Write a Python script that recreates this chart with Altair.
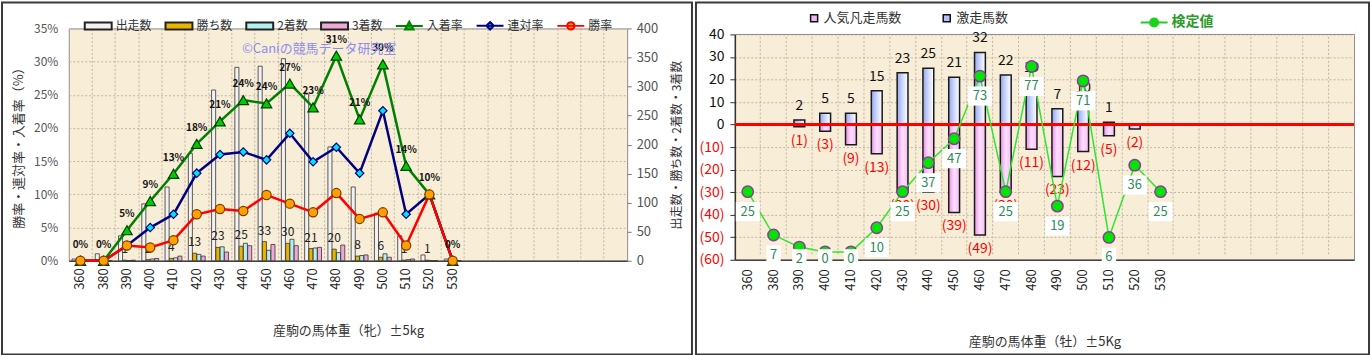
import altair as alt
import pandas as pd

FONT = "Noto Sans CJK JP"

# ---------------- data ----------------
cats = ["360", "380", "390", "400", "410", "420", "430", "440", "450",
        "460", "470", "480", "490", "500", "510", "520", "530"]
blanks = ["x1", "x2", "x3", "x4", "x5", "x6", "x7"]
x_domain = cats + blanks

# left panel (牝)
starters = [3, 12, 43, 98, 127, 185, 294, 333, 335, 348, 287, 196, 127, 82, 43, 10, 3]
wins = [0, 0, 1, 2, 4, 13, 23, 25, 33, 30, 21, 20, 8, 6, 1, 1, 0]
seconds = [0, 0, 0, 3, 5, 11, 24, 30, 18, 37, 22, 14, 9, 12, 2, 0, 0]
thirds = [0, 0, 1, 4, 8, 8, 15, 26, 28, 26, 23, 27, 10, 6, 3, 0, 0]
place_rate = [0, 0, 4.6, 9.0, 13.1, 17.6, 21.0, 24.2, 23.7, 26.7, 23.1, 30.9, 21.3, 29.6, 14.3, 10.0, 0]
rentai_rate = [0, 0, 2.3, 5.0, 7.0, 13.2, 16.0, 16.4, 15.2, 19.2, 14.9, 17.1, 13.2, 22.6, 7.0, 10.0, 0]
win_rate = [0, 0, 2.3, 2.0, 3.1, 7.0, 7.8, 7.5, 9.9, 8.6, 7.3, 10.2, 6.3, 7.3, 2.3, 10.0, 0]

# right panel (牡)
gekisou = [0, 0, 2, 5, 5, 15, 23, 25, 21, 32, 22, 19, 7, 10, 1, 0, 0]
ninki = [0, 0, -1, -3, -9, -13, -30, -30, -39, -49, -30, -11, -23, -12, -5, -2, 0]
check = [25, 7, 2, 0, 0, 10, 25, 37, 47, 73, 25, 77, 19, 71, 6, 36, 25]

bar_names = ["出走数", "勝ち数", "2着数", "3着数"]
line_names = ["入着率", "連対率", "勝率"]
bar_fill = ["#f2f2f2", "#e8b400", "#b4f0f0", "#f0a8d8"]
line_color = ["#008000", "#000080", "#ff0000"]
marker_fill = ["#00cc00", "#00e4f0", "#ffa000"]
marker_stroke = ["#004000", "#000080", "#7a3a00"]
marker_shape = ["triangle-up", "diamond", "circle"]
marker_size = [110, 70, 85]

W1, H1 = 560, 233
W2, H2 = 621, 232   # right plot drawn 6px taller; its scales start 6px down
TOP2 = 6
GRID = "#bdb5a5"
VIEW_BG = "#f8edd6"

df_bars = pd.DataFrame({
    "cat": cats * 4,
    "series": sum([[n] * len(cats) for n in bar_names], []),
    "value": starters + wins + seconds + thirds,
})
df_lines = pd.DataFrame({
    "cat": cats * 3,
    "series": sum([[n] * len(cats) for n in line_names], []),
    "value": place_rate + rentai_rate + win_rate,
})
df_r = pd.DataFrame({"cat": cats, "gekisou": gekisou, "ninki": ninki, "check": check})
one = alt.Data(values=[{"z": 0}])


def x_axis(title, label_pad, title_pad):
    return alt.Axis(
        title=title, bandPosition=0, labelAngle=270,
        labelExpr="substring(datum.label,0,1)=='x' ? '' : datum.label",
        labelFontSize=13, labelColor="#222", labelPadding=label_pad,
        ticks=False, grid=True, gridColor=GRID, gridDash=[2, 2],
        domain=True, domainColor="#444", domainWidth=1.5,
        titleFontSize=13, titleFontWeight="normal", titleColor="#333",
        titlePadding=title_pad)


# ---------------- left panel ----------------
xs1 = alt.Scale(domain=x_domain, paddingInner=0, paddingOuter=0)
xax1 = x_axis("産駒の馬体重（牝）±5kg", 7, 35)


def X1():
    return alt.X("cat:N", scale=xs1, axis=xax1)


off_scale = alt.Scale(domain=bar_names, paddingInner=0.05, paddingOuter=0.75)
count_scale = alt.Scale(domain=[0, 400], nice=False)
count_axis = alt.Axis(
    orient="right", values=list(range(0, 401, 50)),
    title="出走数・勝ち数・2着数・3着数", titleAngle=270, titleBaseline="top",
    titleFontSize=12, titleFontWeight="normal", titleColor="#333", titlePadding=14,
    labelFontSize=13, labelColor="#555", tickSize=4, tickColor="#777",
    labelPadding=5, grid=False, domain=False)
rate_scale = alt.Scale(domain=[0, 35], nice=False)
rate_axis = alt.Axis(
    orient="left", values=list(range(0, 36, 5)), labelExpr="datum.value + '%'",
    labelFontSize=12, labelColor="#555", labelPadding=11, ticks=False,
    grid=True, gridColor=GRID, gridDash=[2, 2], domain=False,
    title="勝率・連対率・入着率（%）", titleFontSize=13, titleFontWeight="normal",
    titleColor="#333", titlePadding=8)

left_layers = []
for i, (name, col) in enumerate(zip(bar_names, bar_fill)):
    left_layers.append(
        alt.Chart(df_bars).transform_filter(alt.datum.series == name)
        .mark_bar(fill=col, stroke="#333", strokeWidth=0.8, opacity=1)
        .encode(x=X1(),
                xOffset=alt.XOffset("series:N", scale=off_scale),
                y=alt.Y("value:Q", scale=count_scale,
                        axis=count_axis if i == 0 else None)))

left_layers.append(
    alt.Chart(df_bars)
    .transform_filter((alt.datum.series == "勝ち数") & (alt.datum.value > 0))
    .mark_text(baseline="bottom", dy=-4, fontSize=12, color="#222")
    .encode(x=X1(), xOffset=alt.XOffset("series:N", scale=off_scale),
            y=alt.Y("value:Q", scale=count_scale, axis=None), text="value:Q"))

for i, name in enumerate(line_names):
    left_layers.append(
        alt.Chart(df_lines).transform_filter(alt.datum.series == name)
        .mark_line(color=line_color[i], strokeWidth=2.5)
        .encode(x=X1(), y=alt.Y("value:Q", scale=rate_scale,
                                axis=rate_axis if i == 0 else None)))
for i, name in enumerate(line_names):
    left_layers.append(
        alt.Chart(df_lines).transform_filter(alt.datum.series == name)
        .mark_point(shape=marker_shape[i], filled=True, fill=marker_fill[i],
                    stroke=marker_stroke[i], strokeWidth=1.2,
                    size=marker_size[i], opacity=1)
        .encode(x=X1(), y=alt.Y("value:Q", scale=rate_scale, axis=None)))

left_layers.append(
    alt.Chart(df_lines).transform_filter(alt.datum.series == "入着率")
    .transform_calculate(lab="format(datum.value, '.0f') + '%'")
    .mark_text(dy=-16, fontSize=10, fontWeight="bold", color="#111")
    .encode(x=X1(), y=alt.Y("value:Q", scale=rate_scale, axis=None), text="lab:N"))

all_names = bar_names + line_names
p_rect = "M-1,-0.26H1V0.26H-1Z"
p_tri = "M-1,0H1M0,-0.32L0.32,0.26H-0.32Z"
p_dia = "M-1,0H1M0,-0.28L0.28,0L0,0.28L-0.28,0Z"
p_cir = "M-1,0H1M0.27,0A0.27,0.27 0 1,1 -0.27,0A0.27,0.27 0 1,1 0.27,0Z"
leg1 = alt.Legend(orient="none", legendX=15, legendY=-17.5, direction="horizontal",
                  title=None, symbolSize=729, symbolStrokeWidth=2, labelFontSize=12,
                  labelColor="#333", labelOffset=3, columnPadding=9, padding=0)
df_leg1 = pd.DataFrame({"series": all_names, "cat": "x7", "v": -100})
left_layers.append(
    alt.Chart(df_leg1).mark_point(filled=True, clip=True, opacity=1)
    .encode(x=X1(), y=alt.Y("v:Q", scale=rate_scale, axis=None),
            fill=alt.Fill("series:N", scale=alt.Scale(domain=all_names,
                          range=bar_fill + marker_fill), legend=leg1),
            stroke=alt.Stroke("series:N", scale=alt.Scale(domain=all_names,
                              range=["#222"] * 4 + line_color), legend=leg1),
            shape=alt.Shape("series:N", scale=alt.Scale(domain=all_names,
                            range=[p_rect] * 4 + [p_tri, p_dia, p_cir]), legend=leg1)))

left_layers.append(
    alt.Chart(one)
    .mark_text(text="©Caniの競馬データ研究室", fontSize=13, color="#8c8cf0", align="center")
    .encode(x=alt.value(251), y=alt.value(21)))
left_layers.append(
    alt.Chart(one)
    .mark_rect(fill="white", fillOpacity=0, stroke="#3a3a3a", strokeWidth=2)
    .encode(x=alt.value(-67), x2=alt.value(625), y=alt.value(-26), y2=alt.value(327)))

left = alt.layer(*left_layers).resolve_scale(y="independent").properties(width=W1, height=H1)

# ---------------- right panel ----------------
xs2 = alt.Scale(domain=x_domain, paddingInner=0, paddingOuter=0)
xax2 = x_axis("産駒の馬体重（牡）±5Kg", 9, 45)


def X2():
    return alt.X("cat:N", scale=xs2, axis=xax2)


yr_scale = alt.Scale(domain=[-60, 40], nice=False, range=[H2, TOP2])
yr_axis = alt.Axis(
    values=list(range(-60, 41, 10)),
    labelExpr="datum.value < 0 ? '(' + (-datum.value) + ')' : datum.value",
    labelColor={"condition": {"test": "datum.value < 0", "value": "#ff0000"}, "value": "#111111"},
    labelFontSize=14, labelPadding=6, tickSize=5, tickColor="#333",
    domainColor="#333", domainWidth=1.5, grid=True, gridColor=GRID, gridDash=[2, 2], title=None)

pink_grad = alt.Gradient(gradient="linear", x1=0, x2=1, y1=0, y2=0, stops=[
    alt.GradientStop(color="#e890e8", offset=0), alt.GradientStop(color="#ffe0ff", offset=0.5),
    alt.GradientStop(color="#f4bcf4", offset=1)])
blue_grad = alt.Gradient(gradient="linear", x1=0, x2=1, y1=0, y2=0, stops=[
    alt.GradientStop(color="#96a8f0", offset=0), alt.GradientStop(color="#d4dcff", offset=0.55),
    alt.GradientStop(color="#ffffff", offset=1)])

right_layers = []
right_layers.append(
    alt.Chart(df_r).transform_filter(alt.datum.ninki < 0)
    .mark_bar(fill=pink_grad, stroke="#1a1a1a", strokeWidth=1.5, width={"band": 0.42}, opacity=1)
    .encode(x=X2(), y=alt.Y("ninki:Q", scale=yr_scale, axis=yr_axis)))
right_layers.append(
    alt.Chart(df_r).transform_filter(alt.datum.gekisou > 0)
    .mark_bar(fill=blue_grad, stroke="#1a1a1a", strokeWidth=1.5, width={"band": 0.42}, opacity=1)
    .encode(x=X2(), y=alt.Y("gekisou:Q", scale=yr_scale, axis=None)))
# white strip above the 40 line and a top border on the 40 line
right_layers.append(
    alt.Chart(one).mark_rect(fill="white", stroke=None)
    .encode(x=alt.value(-1), x2=alt.value(W2 + 1), y=alt.value(-1), y2=alt.value(TOP2 - 0.5)))
right_layers.append(
    alt.Chart(one).transform_calculate(top="40").mark_rule(color="#8c8c8c", strokeWidth=1)
    .encode(y=alt.Y("top:Q", scale=yr_scale, axis=None)))
bar_leg_names = ["人気凡走馬数", "激走馬数"]
df_leg2 = pd.DataFrame({"name": bar_leg_names, "cat": "x7", "v": -100})
right_layers.append(
    alt.Chart(df_leg2).mark_point(shape="square", filled=True, clip=True, opacity=1,
                                  stroke="#111", strokeWidth=1)
    .encode(x=X2(), y=alt.Y("v:Q", scale=yr_scale, axis=None),
            fill=alt.Fill("name:N", scale=alt.Scale(domain=bar_leg_names, range=["#f4b4f4", "#b4c0f8"]),
                          legend=alt.Legend(orient="none", legendX=73, legendY=-17, direction="horizontal",
                                            title=None, symbolType="square", symbolSize=50,
                                            symbolStrokeColor="#111", symbolStrokeWidth=1.5,
                                            labelFontSize=13, labelColor="#333", labelOffset=3,
                                            columnPadding=37, padding=0))))
right_layers.append(
    alt.Chart(one).mark_rule(color="#ff0000", strokeWidth=3)
    .encode(y=alt.Y("z:Q", scale=yr_scale, axis=None)))
right_layers.append(
    alt.Chart(df_r).transform_filter(alt.datum.gekisou > 0)
    .mark_text(baseline="bottom", dy=-7, fontSize=14, color="#111")
    .encode(x=X2(), y=alt.Y("gekisou:Q", scale=yr_scale, axis=None), text="gekisou:Q"))
right_layers.append(
    alt.Chart(df_r).transform_filter(alt.datum.ninki < 0)
    .transform_calculate(lab="'(' + (-datum.ninki) + ')'")
    .mark_text(baseline="top", dy=7, fontSize=14, color="#ff0000")
    .encode(x=X2(), y=alt.Y("ninki:Q", scale=yr_scale, axis=None), text="lab:N"))

check_scale = alt.Scale(domain=[-3.27, 90.3], nice=False, zero=False, range=[H2, TOP2])
right_layers.append(
    alt.Chart(df_r).mark_line(color="#2ee62e", strokeWidth=1.5)
    .encode(x=X2(), y=alt.Y("check:Q", scale=check_scale, axis=None)))
right_layers.append(
    alt.Chart(df_r)
    .mark_point(shape="circle", filled=True, fill="#00e600", stroke="#8b3a9b",
                strokeWidth=1.5, size=130, opacity=1)
    .encode(x=X2(), y=alt.Y("check:Q", scale=check_scale, axis=None)))
# value labels sit ~20px below their point, but stay inside the plot area
label_pos = "max(datum.check - 8.28, -2.86)"
p_box_big = "M-1,-0.8H1V0.8H-1Z"
p_box_small = "M-0.6,-0.8H0.6V0.8H-0.6Z"
right_layers.append(
    alt.Chart(df_r).transform_calculate(lv=label_pos)
    .mark_point(filled=True, fill="white", strokeWidth=0, size=576, opacity=1)
    .encode(x=X2(), y=alt.Y("lv:Q", scale=check_scale, axis=None),
            shape=alt.condition("datum.check < 10", alt.value(p_box_small), alt.value(p_box_big))))
right_layers.append(
    alt.Chart(df_r).transform_calculate(lv=label_pos)
    .mark_text(fontSize=13, color="#2e8b57")
    .encode(x=X2(), y=alt.Y("lv:Q", scale=check_scale, axis=None), text="check:Q"))
p_chk = "M-1,0H1M0.3,0A0.3,0.3 0 1,1 -0.3,0A0.3,0.3 0 1,1 0.3,0Z"
leg3 = alt.Legend(orient="none", legendX=406, legendY=-20.5, direction="horizontal", title=None,
                  symbolSize=729, symbolStrokeWidth=2, labelFontSize=14, labelFontWeight="bold",
                  labelColor="#2a9a2a", labelOffset=3, padding=0)
df_leg3 = pd.DataFrame({"name": ["検定値"], "cat": "x7", "v": -100})
right_layers.append(
    alt.Chart(df_leg3).mark_point(filled=True, fill="#00e600", clip=True, opacity=1)
    .encode(x=X2(), y=alt.Y("v:Q", scale=check_scale, axis=None),
            stroke=alt.Stroke("name:N", scale=alt.Scale(domain=["検定値"], range=["#22cc22"]), legend=leg3),
            shape=alt.Shape("name:N", scale=alt.Scale(domain=["検定値"], range=[p_chk]), legend=leg3)))
right_layers.append(
    alt.Chart(one)
    .mark_rect(fill="white", fillOpacity=0, stroke="#3a3a3a", strokeWidth=2)
    .encode(x=alt.value(-39), x2=alt.value(636), y=alt.value(-26), y2=alt.value(327)))

right = alt.layer(*right_layers).resolve_scale(y="independent").properties(width=W2, height=H2)

chart = (
    alt.concat(left, right, columns=2, spacing=0)
    .resolve_scale(fill="independent", stroke="independent", shape="independent")
    .properties(padding=0, background="white")
    .configure_view(fill=VIEW_BG, stroke="#8c8c8c", strokeWidth=1)
    .configure_axis(labelFont=FONT, titleFont=FONT)
    .configure_legend(labelFont=FONT)
    .configure_text(font=FONT)
)

chart.save("out.html", embed_options={"renderer": "svg", "actions": False})
